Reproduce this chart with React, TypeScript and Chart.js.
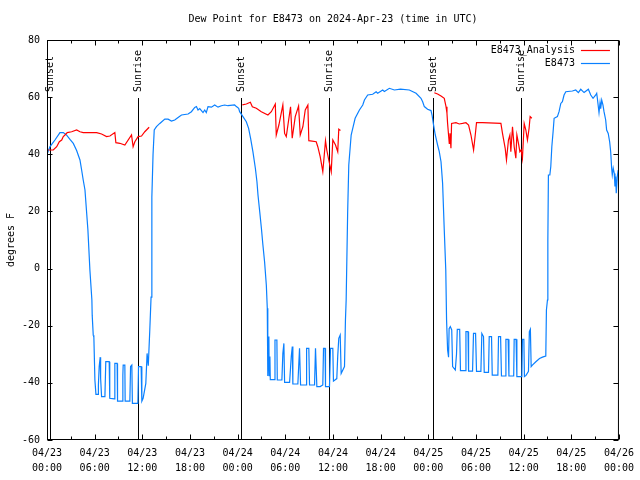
import React, { useEffect, useRef } from 'react';
import { Chart, registerables } from 'chart.js';

Chart.register(...registerables);

const TITLE = 'Dew Point for E8473 on 2024-Apr-23 (time in UTC)';
const Y_TITLE = 'degrees F';
const SERIES_NAMES = ['E8473_Analysis', 'E8473'];
const SERIES_COLORS = ['#ff0000', '#0a80ff'];

const X_TICK_DATES = ['04/23', '04/23', '04/23', '04/23', '04/24', '04/24', '04/24', '04/24', '04/25', '04/25', '04/25', '04/25', '04/26'];
const X_TICK_TIMES = ['00:00', '06:00', '12:00', '18:00', '00:00', '06:00', '12:00', '18:00', '00:00', '06:00', '12:00', '18:00', '00:00'];

const SUN_EVENT_HOURS = [0.38, 11.47, 24.38, 35.47, 48.54, 59.65];
const SUN_EVENT_LABELS = ['Sunset', 'Sunrise', 'Sunset', 'Sunrise', 'Sunset', 'Sunrise'];

// hours since 04/23 00:00 UTC
const blueHours = [
  0.04, 0.38, 1.0, 1.63, 2.05, 2.47, 2.89, 3.31, 3.73, 4.15, 4.36, 4.56, 4.78, 5.15, 5.4, 5.65, 5.69, 5.82, 5.9, 6.03,
  6.16, 6.45, 6.47, 6.57, 6.7, 6.75, 6.87, 7.29, 7.4, 7.83, 7.9, 8.46, 8.54, 8.83, 8.88, 9.46, 9.55, 9.59, 9.8, 9.84,
  10.43, 10.52, 10.68, 10.75, 11.44, 11.52, 11.85, 11.94, 12.1, 12.44, 12.6, 12.75, 12.94, 13.1, 13.2, 13.35, 13.5,
  13.78, 14.2, 14.83, 15.24, 15.67, 16.08, 16.5, 16.93, 17.76, 18.18, 18.6, 18.81, 19.01, 19.23, 19.64, 19.85, 20.05,
  20.27, 20.7, 21.11, 21.53, 21.95, 22.37, 22.78, 23.62, 23.84, 24.13, 24.25, 24.67, 25.09, 25.38, 25.63, 25.92,
  26.23, 26.43, 26.56, 26.78, 26.99, 27.18, 27.39, 27.61, 27.73, 27.78, 27.81,
  27.93, 27.97, 28.06, 28.11, 28.65, 28.7, 28.94, 28.99, 29.57, 29.69, 29.82, 29.91, 30.54, 30.75, 30.88, 30.95,
  31.58, 31.79, 31.92, 32.63, 32.68, 32.96, 33.05, 33.68, 33.8, 33.97, 34.39, 34.72, 34.81, 35.0, 35.06, 35.56,
  35.69, 35.98, 36.06, 36.48, 36.6, 36.73, 36.91, 37.03, 37.45, 37.57, 37.66, 37.85, 37.99, 38.29, 38.49, 38.79,
  39.33, 39.75, 39.96, 40.37, 41.0, 41.43, 41.63, 42.26, 42.47, 43.1, 43.73, 44.5, 45.61, 46.46, 47.08, 47.29, 47.5,
  47.91, 48.34, 48.47, 48.63, 48.88, 49.17, 49.38, 49.6, 49.8, 50.01, 50.2, 50.3,
  50.43, 50.55, 50.62, 50.77, 50.95, 51.06, 51.4, 51.55, 51.65, 51.95, 52.05, 52.65, 52.74, 53.0, 53.07, 53.57,
  53.69, 53.95, 54.07, 54.62, 54.74, 54.95, 55.04, 55.58, 55.67, 55.96, 56.05, 56.76, 56.84, 57.1, 57.21, 57.7,
  57.77, 58.05, 58.15, 58.75, 58.81, 59.05, 59.15, 59.78, 59.85, 60.03, 60.1, 60.3, 60.61, 60.72, 60.85, 60.95,
  61.1, 61.54, 62.0, 62.37, 62.79, 62.87, 63.0, 63.05, 63.12, 63.3, 63.42, 63.55, 63.71, 63.84, 64.25, 64.46,
  64.68, 64.88, 65.09, 65.31, 66.14, 66.56, 66.89, 67.19, 67.61, 68.15, 68.45, 68.74, 69.08, 69.2, 69.28, 69.49,
  69.62, 69.7, 69.83, 69.99, 70.12, 70.33, 70.45, 70.65, 70.83, 70.96, 71.08, 71.16, 71.28, 71.41, 71.5, 71.59,
  71.66, 71.79, 71.91
];
const blueValues = [
  40.3, 42.7, 45, 47.6, 47.6, 46.7, 45.2, 43.8, 41.3, 38, 34.5, 31, 27.5, 13.5, -0.5, -11, -16.3, -23.3, -24, -39,
  -44, -44, -40.7, -34.3, -31, -38.4, -44.8, -44.8, -32.6, -32.6, -45.4, -45.6, -33.2, -33.2, -46.4, -46.4, -37.3, -33.8, -33.8, -46.4,
  -46.4, -34.3, -33.8, -47.2, -47.2, -34.3, -34.3, -46.4, -45.4, -40.2, -29.7, -34, -21.5, -10, 25, 40, 48.5,
  49.7, 50.8, 52.35, 52.3, 51.65, 52, 52.9, 53.75, 54.1, 54.9, 56.4, 56.7, 55.5, 56, 54.6, 55.5, 54.6,
  56.7, 56.5, 57.25, 56.5, 57, 57.25, 57, 57.25, 56.7, 56.1, 54.9, 53.2, 51.4, 49.1, 45.6, 40.9,
  35.1, 30.4, 25.75, 19.9, 14.1, 8.25, 2.4, -5.75, -13.9, -23.25, -37.6,
  -23.8, -37.5, -30.8, -38.9, -38.9, -25, -25, -39, -39, -29.7, -26.2, -39.8, -39.8, -30.8, -27.3, -40.4,
  -40.4, -27.9, -40.75, -40.75, -27.9, -27.9, -40.75, -40.75, -27.9, -41.3, -41.3, -40.75, -27.9, -27.9, -41.3, -41.3,
  -27.9, -27.9, -39.4, -38.5, -30.5, -24.4, -23.25, -36.7, -34.3, -18, -11, 20, 36.25, 46.75, 49.1, 52.6,
  55.5, 57.25, 59, 60.75, 61, 61.9, 61.35, 62.5, 62, 63.1, 62.5, 62.8, 62.5, 61.35, 59.6, 58.4, 56.7,
  55.75, 55.3, 53.75, 50.8, 46.75, 43.25, 40.9, 37.4, 29.85, 13.5, -0.5, -18,
  -28.5, -31, -21, -20.3, -21.5, -34.3, -35.5, -30, -21.25, -21.25, -35.7, -35.7, -22.1, -22.1, -35.9, -35.9,
  -22.7, -22.7, -36, -36, -22.7, -23.8, -36.3, -36.3, -23.8, -23.8, -37.3, -37.3, -23.8, -23.8, -37.6, -37.6,
  -24.75, -24.75, -37.6, -37.6, -24.75, -24.75, -37.8, -37.8, -24.75, -24.75, -37.8, -37.4, -36, -22.1, -21.25, -34.3,
  -33.8, -32.6, -31.5, -31, -30.6, -14.5, -11, 10, 32.75, 32.75, 35.7, 42.65, 47.9, 52.6, 53.2, 54.9,
  57.8, 58.4, 60.75, 61.9, 62.15, 62.5, 61.6, 62.75, 61.6, 62.75, 60.75, 59.6, 60.75, 61.35, 59.6, 54.6,
  58, 56, 59, 57.2, 54.9, 52, 48.5, 47.3, 44.4, 40.9, 35.1, 32.75, 35.1, 33.3, 28.7, 32.2,
  26.35, 32.2, 34.5
];

const redHours = [
  0.16, 0.79, 1.22, 1.55, 1.85, 2.05, 2.26, 2.55, 3.1, 3.73, 4.15, 4.56, 6.25, 6.87, 7.5, 7.92, 8.54, 8.67, 9.17,
  9.8, 10.64, 10.84, 11.06, 11.47, 11.9, 12.31, 12.86,
  18,
  24.59, 25.09, 25.6, 25.85, 26.35, 26.98, 27.81, 28.24, 28.74, 28.86, 29.19, 29.69, 29.91, 30.12, 30.66, 30.87,
  31.25, 31.67, 31.88, 32.21, 32.51, 32.84, 32.96, 33.89, 34.09, 34.39, 34.72, 35.06, 35.22, 35.47, 35.78, 35.98,
  36.32, 36.6, 36.73, 36.94,
  42,
  48.76, 49.17, 49.6, 50.01, 50.23, 50.35, 50.43, 50.55, 50.64, 50.73, 50.85, 50.93, 51.48, 51.9, 52.31, 52.74,
  53.07, 53.37, 53.7, 53.91, 54.07, 54.83, 57.14, 57.34, 57.68, 57.84, 58.09, 58.27, 58.39, 58.6, 58.81, 59.02,
  59.15, 59.35, 59.53, 59.69, 59.85, 60.07, 60.28, 60.48, 60.69, 60.82, 61.03
];
const redValues = [
  41.5, 41.5, 42.65, 44.4, 45, 46.2, 46.75, 47.6, 47.9, 48.5, 47.9, 47.6, 47.6, 47.1, 46.2, 46.4, 47.6, 44.05, 43.85,
  43.25, 46.75, 42.65, 44.4, 46.2, 46.4, 47.9, 49.45,
  null,
  57.3, 57.6, 58.2, 56.65, 56.1, 54.9, 53.75, 54.9, 57.6, 46.75, 50.25, 57.25, 47.3, 46.2, 56.65, 45.6,
  53.2, 56.9, 46.75, 49.65, 55.5, 57.25, 44.75, 44.4, 42.65, 39.15, 33.9, 44.75, 41.5, 38, 33.9, 45,
  43.25, 40.9, 48.75, 48.3,
  null,
  61.55, 61.1, 60.4, 59.6, 56.65, 54.35, 50.8, 46.75, 43.85, 47.35, 42.1, 50.8, 51.05, 50.6, 50.8, 51.05,
  50.25, 46.75, 41.5, 46.75, 51.05, 51.05, 50.8, 47.35, 42.1, 38, 45, 46.75, 40.9, 49.65, 42.65, 38.6,
  46.75, 43.85, 40.9, 41.5, 38.6, 50.8, 48.5, 45, 49.1, 53.2, 52.6
];

const FONT = '10px "DejaVu Sans Mono", monospace';

const decorPlugin = {
  id: 'gnuplotDecor',
  beforeDatasetsDraw(chart: any) {
    const { ctx, chartArea: a, scales } = chart;
    const x = scales.x;
    ctx.save();
    ctx.strokeStyle = '#000';
    ctx.fillStyle = '#000';
    ctx.lineWidth = 1;
    ctx.font = FONT;
    SUN_EVENT_HOURS.forEach((h, i) => {
      const px = Math.round(x.getPixelForValue(h)) + 0.5;
      ctx.beginPath();
      ctx.moveTo(px, a.top + 58);
      ctx.lineTo(px, a.bottom);
      ctx.stroke();
      ctx.save();
      ctx.translate(px, a.top + 52);
      ctx.rotate(-Math.PI / 2);
      ctx.textAlign = 'left';
      ctx.textBaseline = 'middle';
      ctx.fillText(SUN_EVENT_LABELS[i], 0, 0);
      ctx.restore();
    });
    ctx.restore();
  },
  afterDraw(chart: any) {
    const { ctx, chartArea: a, scales } = chart;
    const x = scales.x;
    const y = scales.y;
    ctx.save();
    ctx.strokeStyle = '#000';
    ctx.lineWidth = 1;
    const L = a.left + 0.5, R = a.right - 0.5, T = a.top + 0.5, B = a.bottom - 0.5;
    ctx.strokeRect(L, T, R - L, B - T);
    // x ticks (major every 6h, minor every 3h)
    for (let h = 0; h <= 72; h += 3) {
      const px = Math.round(x.getPixelForValue(h)) + 0.5;
      const len = h % 6 === 0 ? 5 : 3;
      ctx.beginPath();
      ctx.moveTo(px, B); ctx.lineTo(px, B - len);
      ctx.moveTo(px, T); ctx.lineTo(px, T + len);
      ctx.stroke();
    }
    // y ticks
    y.ticks.forEach((t: any) => {
      const py = Math.round(y.getPixelForValue(t.value)) + 0.5;
      ctx.beginPath();
      ctx.moveTo(L, py); ctx.lineTo(L + 5, py);
      ctx.moveTo(R, py); ctx.lineTo(R - 5, py);
      ctx.stroke();
    });
    ctx.fillStyle = '#000';
    ctx.font = FONT;
    // title
    ctx.textAlign = 'center';
    ctx.textBaseline = 'middle';
    ctx.fillText(TITLE, (a.left + a.right) / 2, 19);
    // y title
    ctx.save();
    ctx.translate(11, (a.top + a.bottom) / 2);
    ctx.rotate(-Math.PI / 2);
    ctx.fillText(Y_TITLE, 0, 0);
    ctx.restore();
    // legend
    SERIES_NAMES.forEach((name, i) => {
      const ly = a.top + 10 + i * 13;
      ctx.textAlign = 'right';
      ctx.fillStyle = '#000';
      ctx.fillText(name, a.right - 44, ly);
      ctx.strokeStyle = SERIES_COLORS[i];
      ctx.lineWidth = 1.2;
      ctx.beginPath();
      ctx.moveTo(a.right - 38, Math.round(ly) + 0.5);
      ctx.lineTo(a.right - 9, Math.round(ly) + 0.5);
      ctx.stroke();
    });
    ctx.restore();
  }
};

export default function App() {
  const canvasRef = useRef<HTMLCanvasElement | null>(null);

  useEffect(() => {
    const canvas = canvasRef.current;
    if (!canvas) return;
    const toPoints = (hs: number[], vs: (number | null)[]) => hs.map((h, i) => ({ x: h, y: vs[i] }));
    const chart = new Chart(canvas, {
      type: 'line',
      data: {
        datasets: [
          {
            label: SERIES_NAMES[0],
            data: toPoints(redHours, redValues) as any,
            borderColor: SERIES_COLORS[0],
            borderWidth: 1.2,
            pointRadius: 0,
            tension: 0,
            spanGaps: false,
            fill: false
          },
          {
            label: SERIES_NAMES[1],
            data: toPoints(blueHours, blueValues) as any,
            borderColor: SERIES_COLORS[1],
            borderWidth: 1.2,
            pointRadius: 0,
            tension: 0,
            spanGaps: false,
            fill: false
          }
        ]
      },
      options: {
        responsive: false,
        animation: false,
        devicePixelRatio: 1,
        layout: { padding: { top: 40, right: 20, left: 0, bottom: 0 } },
        plugins: {
          legend: { display: false },
          title: { display: false },
          tooltip: { enabled: false }
        },
        scales: {
          x: {
            type: 'linear',
            min: 0,
            max: 72,
            grid: { display: false, drawTicks: false },
            border: { display: false },
            ticks: {
              stepSize: 6,
              autoSkip: false,
              maxRotation: 0,
              padding: 6,
              color: '#000',
              font: { family: '"DejaVu Sans Mono", monospace', size: 10, lineHeight: 1.5 },
              callback: (_v: any, i: number) => [X_TICK_DATES[i], X_TICK_TIMES[i]]
            },
            afterFit: (s: any) => { s.height = 40; }
          },
          y: {
            min: -60,
            max: 80,
            grid: { display: false, drawTicks: false },
            border: { display: false },
            ticks: {
              stepSize: 20,
              padding: 7,
              color: '#000',
              font: { family: '"DejaVu Sans Mono", monospace', size: 10 }
            },
            afterFit: (s: any) => { s.width = 47; }
          }
        }
      } as any,
      plugins: [decorPlugin]
    });
    return () => chart.destroy();
  }, []);

  return (
    <div style={{ position: 'fixed', left: 0, top: 0, width: 640, height: 480, background: '#fff' }}>
      <canvas ref={canvasRef} width={640} height={480} style={{ width: 640, height: 480 }} />
    </div>
  );
}
